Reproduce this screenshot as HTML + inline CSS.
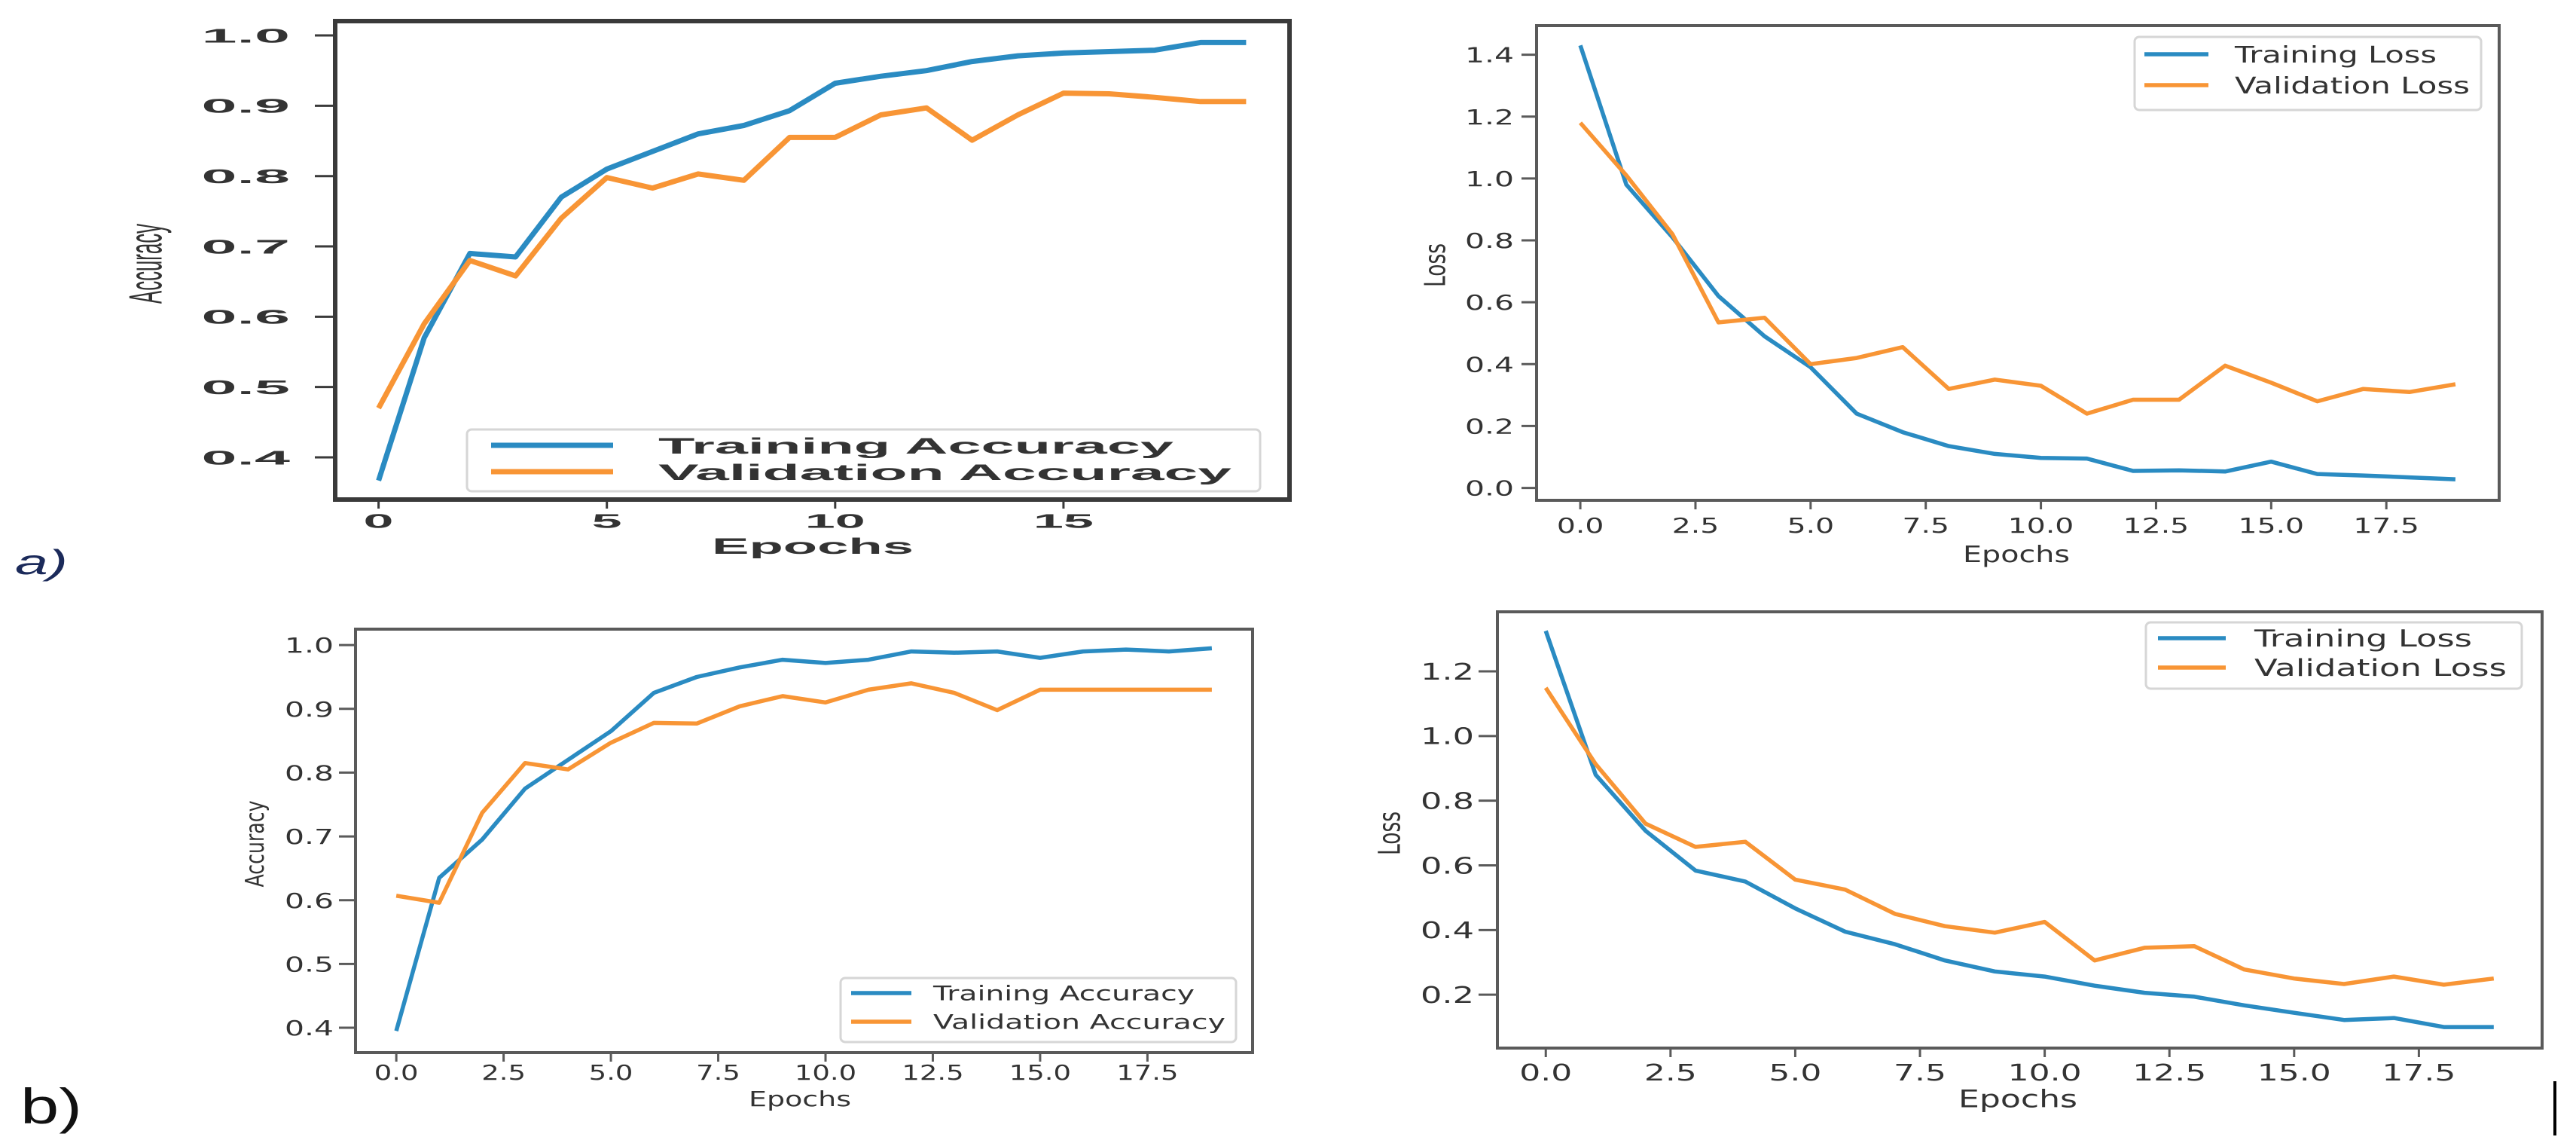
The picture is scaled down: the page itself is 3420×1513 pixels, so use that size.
<!DOCTYPE html>
<html><head><meta charset="utf-8">
<style>
html,body{margin:0;padding:0;background:#fff;}
svg{display:block;}
</style></head>
<body>
<svg id="fig" width="3420" height="1513" viewBox="0 0 3420 1513" xmlns="http://www.w3.org/2000/svg">
<rect x="0" y="0" width="3420" height="1513" fill="#ffffff"/>
<text x="20" y="762" font-family="Liberation Sans, sans-serif" font-style="italic" font-size="46" fill="#1b2a5a" textLength="70" lengthAdjust="spacingAndGlyphs">a)</text>
<text x="27" y="1491" font-family="Liberation Sans, sans-serif" font-size="66" fill="#111" textLength="82" lengthAdjust="spacingAndGlyphs">b)</text>
<rect x="3390" y="1435" width="4" height="72" fill="#000"/>
</svg>
<script>
const epochs = [0,1,2,3,4,5,6,7,8,9,10,11,12,13,14,15,16,17,18,19];

const accTrainA = [0.367,0.57,0.69,0.685,0.77,0.81,0.835,0.86,0.872,0.893,0.932,0.942,0.95,0.963,0.971,0.975,0.977,0.979,0.99,0.99];
const accValA   = [0.47,0.59,0.68,0.658,0.74,0.798,0.783,0.803,0.794,0.855,0.855,0.887,0.897,0.851,0.887,0.918,0.917,0.912,0.906,0.906];

const lossTrainB = [1.43,0.98,0.81,0.62,0.49,0.39,0.24,0.18,0.135,0.11,0.097,0.095,0.055,0.057,0.053,0.085,0.045,0.04,0.034,0.028];
const lossValB   = [1.18,1.01,0.82,0.535,0.55,0.40,0.42,0.455,0.32,0.35,0.33,0.24,0.285,0.285,0.395,0.34,0.28,0.32,0.31,0.335];

const accTrainC = [0.395,0.635,0.695,0.775,0.82,0.865,0.925,0.95,0.965,0.977,0.972,0.977,0.99,0.988,0.99,0.98,0.99,0.993,0.99,0.995];
const accValC   = [0.607,0.596,0.737,0.815,0.805,0.847,0.878,0.877,0.904,0.92,0.91,0.93,0.94,0.925,0.898,0.93,0.93,0.93,0.93,0.93];

const lossTrainD = [1.325,0.88,0.707,0.584,0.55,0.467,0.395,0.356,0.306,0.272,0.256,0.228,0.206,0.194,0.167,0.144,0.122,0.128,0.1,0.1];
const lossValD   = [1.149,0.913,0.729,0.657,0.673,0.556,0.525,0.45,0.412,0.392,0.425,0.306,0.345,0.35,0.278,0.25,0.233,0.256,0.231,0.25];

const xTicksA = [0,5,10,15];
const xTickLabelsA = ["0","5","10","15"];
const xTicksHalf = [0,2.5,5,7.5,10,12.5,15,17.5];
const xTickLabelsHalf = ["0.0","2.5","5.0","7.5","10.0","12.5","15.0","17.5"];
const yTicksAcc = [0.4,0.5,0.6,0.7,0.8,0.9,1.0];
const yTickLabelsAcc = ["0.4","0.5","0.6","0.7","0.8","0.9","1.0"];
const yTicksLossB = [0,0.2,0.4,0.6,0.8,1.0,1.2,1.4];
const yTickLabelsLossB = ["0.0","0.2","0.4","0.6","0.8","1.0","1.2","1.4"];
const yTicksLossD = [0.2,0.4,0.6,0.8,1.0,1.2];
const yTickLabelsLossD = ["0.2","0.4","0.6","0.8","1.0","1.2"];

const NS = "http://www.w3.org/2000/svg";
const svg = document.getElementById('fig');
function mk(tag, attrs, parent){
  const e = document.createElementNS(NS, tag);
  for (const k in attrs) e.setAttribute(k, attrs[k]);
  (parent||svg).appendChild(e);
  return e;
}
function tw(s, w){ let n=0; for (const c of s) n += (c==='.')?0.5:1; return n*w; }

const BLUE = "#2a8bc2", ORANGE = "#f89535";

function panel(p){
  const g = mk('g', {});
  
  
  const sx = v => p.x0 + (v - p.xmin) / (p.xmax - p.xmin) * (p.x1 - p.x0);
  const sy = v => p.y1 - (v - p.ymin) / (p.ymax - p.ymin) * (p.y1 - p.y0);
  const font = p.font;
  const series = [[p.train, BLUE, 'training-line'], [p.val, ORANGE, 'validation-line']];
  series.forEach(s => {
    const pts = epochs.map((e,i) => sx(e).toFixed(1) + ',' + sy(s[0][i]).toFixed(1)).join(' ');
    const pl = mk('polyline', {points: pts, fill: 'none', stroke: s[1], 'stroke-width': p.lw, 'stroke-linejoin': 'round'}, g);
    
    
  });
  const fr = mk('rect', {x: p.x0, y: p.y0, width: p.x1 - p.x0, height: p.y1 - p.y0, fill: 'none', stroke: p.frame, 'stroke-width': p.fw}, g);
  
  
  p.yt.forEach((v,i) => {
    const y = sy(v);
    const t = mk('line', {x1: p.x0 - p.tickLen, x2: p.x0, y1: y, y2: y, stroke: p.frame, 'stroke-width': 3}, g);
    
    
    const lab = p.ytl[i];
    const tx = mk('text', {x: p.ylabRight, y: y + p.yfs*0.36, 'text-anchor': 'end', 'font-family': font, 'font-size': p.yfs, 'font-weight': p.weight, fill: p.tcol, textLength: tw(lab, p.ycw), lengthAdjust: 'spacingAndGlyphs'}, g);
    tx.textContent = lab;
    
    
  });
  p.xt.forEach((v,i) => {
    const x = sx(v);
    const t = mk('line', {x1: x, x2: x, y1: p.y1, y2: p.y1 + 12, stroke: p.frame, 'stroke-width': 3}, g);
    
    
    const lab = p.xtl[i];
    const tx = mk('text', {x: x, y: p.xlabY + p.xfs*0.36, 'text-anchor': 'middle', 'font-family': font, 'font-size': p.xfs, 'font-weight': p.weight, fill: p.tcol, textLength: tw(lab, p.xcw), lengthAdjust: 'spacingAndGlyphs'}, g);
    tx.textContent = lab;
    
    
  });
  const xt = mk('text', {x: p.xtitle[0], y: p.xtitle[1] + p.xtitle[3]*0.36, 'text-anchor': 'middle', 'font-family': font, 'font-size': p.xtitle[3], 'font-weight': p.weight, fill: p.tcol, textLength: p.xtitle[2], lengthAdjust: 'spacingAndGlyphs'}, g);
  xt.textContent = 'Epochs';
  
  
  const yt = mk('text', {x: 0, y: 0, 'text-anchor': 'middle', 'font-family': font, 'font-size': p.ytitle[3], fill: p.tcol, textLength: p.ytitle[2], lengthAdjust: 'spacingAndGlyphs', transform: 'translate(' + p.ytitle[0] + ',' + p.ytitle[1] + ') rotate(-90) translate(0,' + (p.ytitle[3]*0.36) + ')'}, g);
  yt.textContent = p.ylabel;
  
  
  const L = p.leg;
  const lg = mk('g', {}, g);
  
  
  const lb = mk('rect', {x: L.x0, y: L.y0, width: L.x1 - L.x0, height: L.y1 - L.y0, rx: 6, fill: '#fff', 'fill-opacity': 0.85, stroke: '#d6d6d6', 'stroke-width': 3}, lg);
  
  
  [[BLUE, L.ya, L.labels[0], L.ends[0]], [ORANGE, L.yb, L.labels[1], L.ends[1]]].forEach((r, k) => {
    const ln = mk('line', {x1: L.h0, x2: L.h1, y1: r[1], y2: r[1], stroke: r[0], 'stroke-width': p.lw}, lg);
    
    
    const tx = mk('text', {x: L.tx, y: r[1] + L.fs*0.36, 'font-family': font, 'font-size': L.fs, 'font-weight': p.weight, fill: p.tcol, textLength: r[3] - L.tx, lengthAdjust: 'spacingAndGlyphs'}, lg);
    tx.textContent = r[2];
    
    
  });
}

const bold = "Liberation Sans, sans-serif";
const cond = "DejaVu Sans, Liberation Sans, sans-serif";

panel({name:'accuracy-chart-a', x0:445, x1:1712, y0:28, y1:663, xmin:-0.95, xmax:19.95, ymin:0.340, ymax:1.0204,
  train:accTrainA, val:accValA, lw:7, frame:'#3a3a3a', fw:6, tickLen:27, font:bold, weight:'bold', tcol:'#333',
  yt:yTicksAcc, ytl:yTickLabelsAcc, ylabRight:385, yfs:26, ycw:47,
  xt:xTicksA, xtl:xTickLabelsA, xlabY:691, xfs:26, xcw:40,
  xtitle:[1079,724,268,30], ytitle:[192,350,106,62], ylabel:'Accuracy',
  leg:{x0:620,x1:1673,y0:570,y1:652,h0:652,h1:814,ya:591,yb:626,tx:874,fs:30,labels:['Training Accuracy','Validation Accuracy'],ends:[1558,1635]}});

panel({name:'loss-chart-a', x0:2040, x1:3318, y0:34, y1:664, xmin:-0.95, xmax:19.95, ymin:-0.04, ymax:1.494,
  train:lossTrainB, val:lossValB, lw:5.5, frame:'#5a5a5a', fw:4, tickLen:20, font:cond, weight:'normal', tcol:'#333',
  yt:yTicksLossB, ytl:yTickLabelsLossB, ylabRight:2010, yfs:28, ycw:26,
  xt:xTicksHalf, xtl:xTickLabelsHalf, xlabY:697, xfs:28, xcw:25,
  xtitle:[2677,735,142,30], ytitle:[1905,352,58,38], ylabel:'Loss',
  leg:{x0:2834,x1:3294,y0:49,y1:146,h0:2847,h1:2932,ya:72,yb:113,tx:2967,fs:30,labels:['Training Loss','Validation Loss'],ends:[3235,3279]}});

panel({name:'accuracy-chart-b', x0:472, x1:1663, y0:835, y1:1397, xmin:-0.95, xmax:19.95, ymin:0.361, ymax:1.025,
  train:accTrainC, val:accValC, lw:5.5, frame:'#5a5a5a', fw:4, tickLen:22, font:cond, weight:'normal', tcol:'#333',
  yt:yTicksAcc, ytl:yTickLabelsAcc, ylabRight:443, yfs:28, ycw:26,
  xt:xTicksHalf, xtl:xTickLabelsHalf, xlabY:1423, xfs:28, xcw:23.5,
  xtitle:[1062,1458,136,28], ytitle:[338,1120,115,34], ylabel:'Accuracy',
  leg:{x0:1116,x1:1641,y0:1298,y1:1383,h0:1130,h1:1210,ya:1318,yb:1356,tx:1239,fs:27,labels:['Training Accuracy','Validation Accuracy'],ends:[1586,1627]}});

panel({name:'loss-chart-b', x0:1988, x1:3375, y0:812, y1:1391, xmin:-0.97, xmax:19.97, ymin:0.035, ymax:1.384,
  train:lossTrainD, val:lossValD, lw:5.5, frame:'#5a5a5a', fw:4, tickLen:25, font:cond, weight:'normal', tcol:'#333',
  yt:yTicksLossD, ytl:yTickLabelsLossD, ylabRight:1957, yfs:30, ycw:28.4,
  xt:xTicksHalf, xtl:xTickLabelsHalf, xlabY:1423, xfs:30, xcw:28,
  xtitle:[2679,1458,158,32], ytitle:[1844,1106,58,40], ylabel:'Loss',
  leg:{x0:2849,x1:3348,y0:826,y1:914,h0:2865,h1:2955,ya:847,yb:886,tx:2993,fs:31,labels:['Training Loss','Validation Loss'],ends:[3282,3328]}});
</script>
</body></html>
